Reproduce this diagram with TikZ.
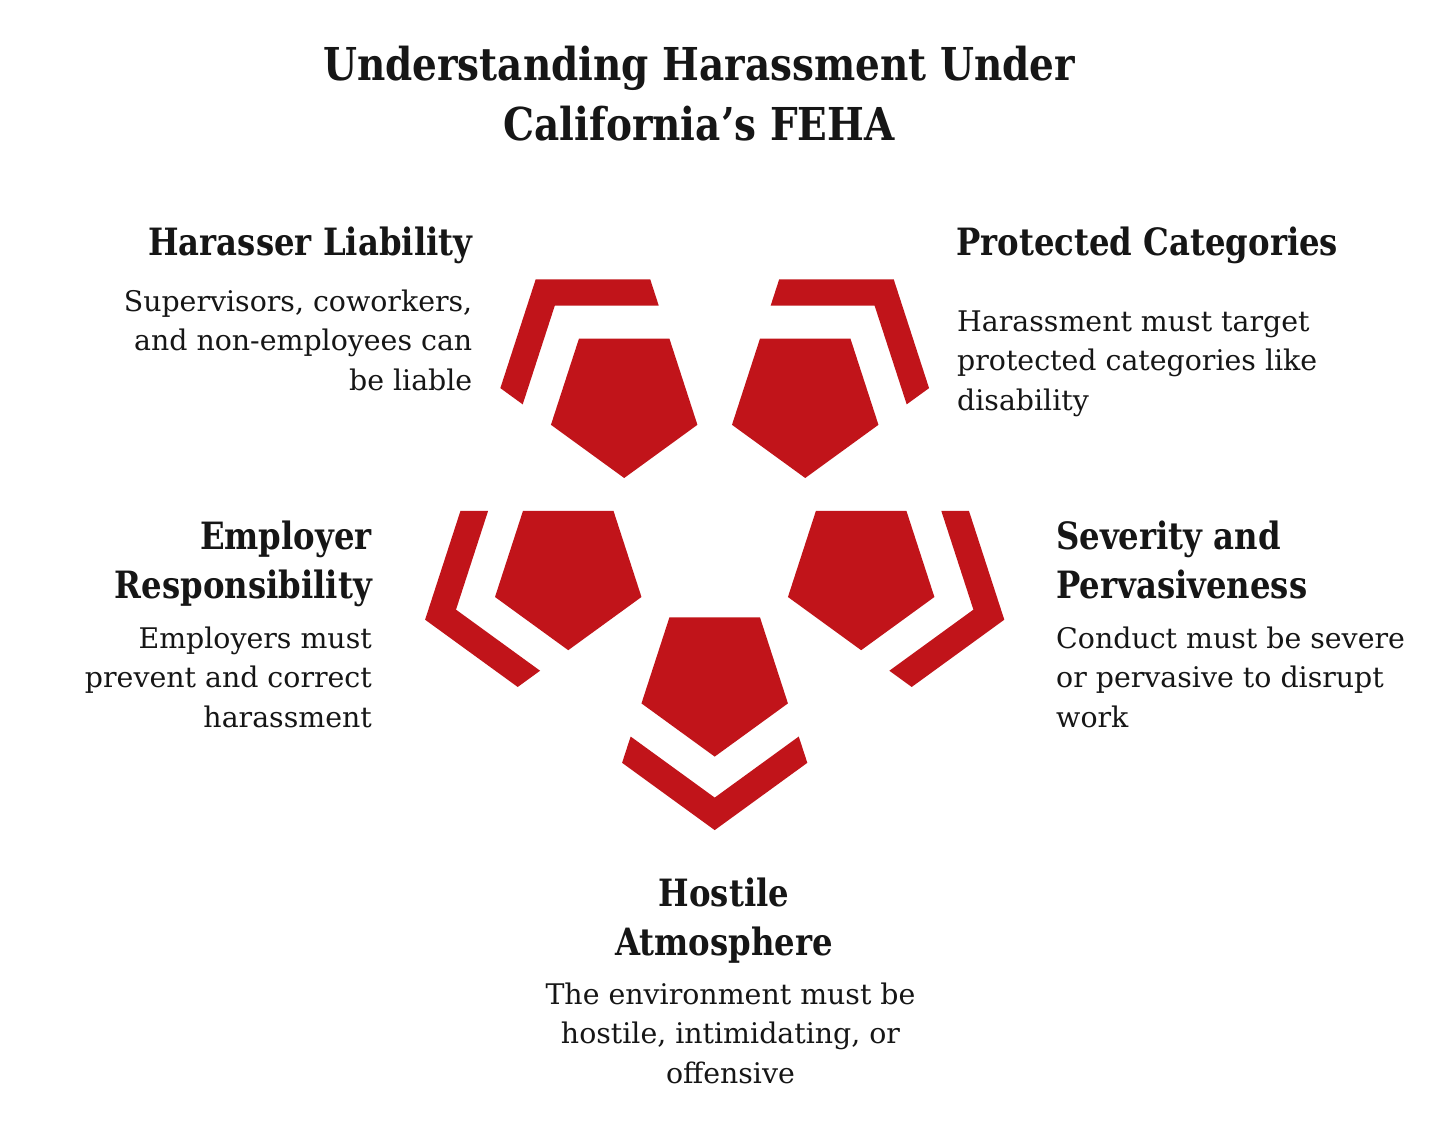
\documentclass[tikz,border=0pt]{standalone}
\usepackage{fontspec}
\setmainfont{DejaVu Serif}
\newfontfamily\headfont{DejaVu Serif}[FakeStretch=0.86]
\usetikzlibrary{calc}
\definecolor{fehared}{RGB}{193,20,26}
\definecolor{ink}{RGB}{22,22,22}
\newcommand\Rp{77}
\newcommand\Ro{150.5}
\newcommand\Ri{118}
\begin{document}
\begin{tikzpicture}[x=1pt,y=-1pt,
  ttl/.style={font=\headfont\bfseries\fontsize{45.3}{60.5}\selectfont, inner sep=0pt, text=ink, align=center},
  head/.style={font=\headfont\bfseries\fontsize{37.6}{49}\selectfont, inner sep=0pt, text=ink},
  body/.style={font=\fontsize{28.4}{39.7}\selectfont, inner sep=0pt, text=ink},
  shapefill/.style={fill=fehared, draw=none}]
\useasboundingbox (0,0) rectangle (1429,1131);
\fill[white] (0,0) rectangle (1429,1131);
% title (anchor = baseline of last line)
\node[ttl, anchor=base] (title) at (699,141) {Understanding Harassment Under\\California’s FEHA};
% arrangement
\coordinate (O) at (714.7,525.6);
\foreach \nm/\ang in {tl/234, tr/306, ml/162, mr/18, bt/90}{
  \coordinate (\nm) at ($(O)+(\ang:154)$);
  % pentagon
  \fill[shapefill, shift={(\nm)}] (90:\Rp) -- (162:\Rp) -- (234:\Rp) -- (306:\Rp) -- (18:\Rp) -- cycle;
  % chevron band around outward vertex
  \fill[shapefill]
    ($(\nm)+0.353*(\ang:\Ro)+0.647*({\ang-72}:\Ro)$) --
    ($(\nm)+(\ang:\Ro)$) --
    ($(\nm)+0.353*(\ang:\Ro)+0.647*({\ang+72}:\Ro)$) --
    ($(\nm)+0.251*(\ang:\Ri)+0.749*({\ang+72}:\Ri)$) --
    ($(\nm)+(\ang:\Ri)$) --
    ($(\nm)+0.251*(\ang:\Ri)+0.749*({\ang-72}:\Ri)$) -- cycle;
}
% texts (anchors at the baseline of each block's last line)
\node[head, anchor=base east, align=right] (h1) at (472.5,256) {Harasser Liability};
\node[body, anchor=base east, align=right] (b1) at (472.5,390.4) {Supervisors, coworkers,\\and non-employees can\\be liable};
\node[head, anchor=base west, align=left] (h2) at (956,256) {Protected Categories};
\node[body, anchor=base west, align=left] (b2) at (957,410.4) {Harassment must target\\protected categories like\\disability};
\node[head, anchor=base east, align=right] (h3) at (372,598.3) {Employer\\Responsibility};
\node[body, anchor=base east, align=right] (b3) at (372,727.4) {Employers must\\prevent and correct\\harassment};
\node[head, anchor=base west, align=left] (h4) at (1056,598.3) {Severity and\\Pervasiveness};
\node[body, anchor=base west, align=left] (b4) at (1056,727.4) {Conduct must be severe\\or pervasive to disrupt\\work};
\node[head, anchor=base, align=center] (h5) at (724,955) {Hostile\\Atmosphere};
\node[body, anchor=base, align=center] (b5) at (730.5,1083.4) {The environment must be\\hostile, intimidating, or\\offensive};
\end{tikzpicture}
\end{document}
